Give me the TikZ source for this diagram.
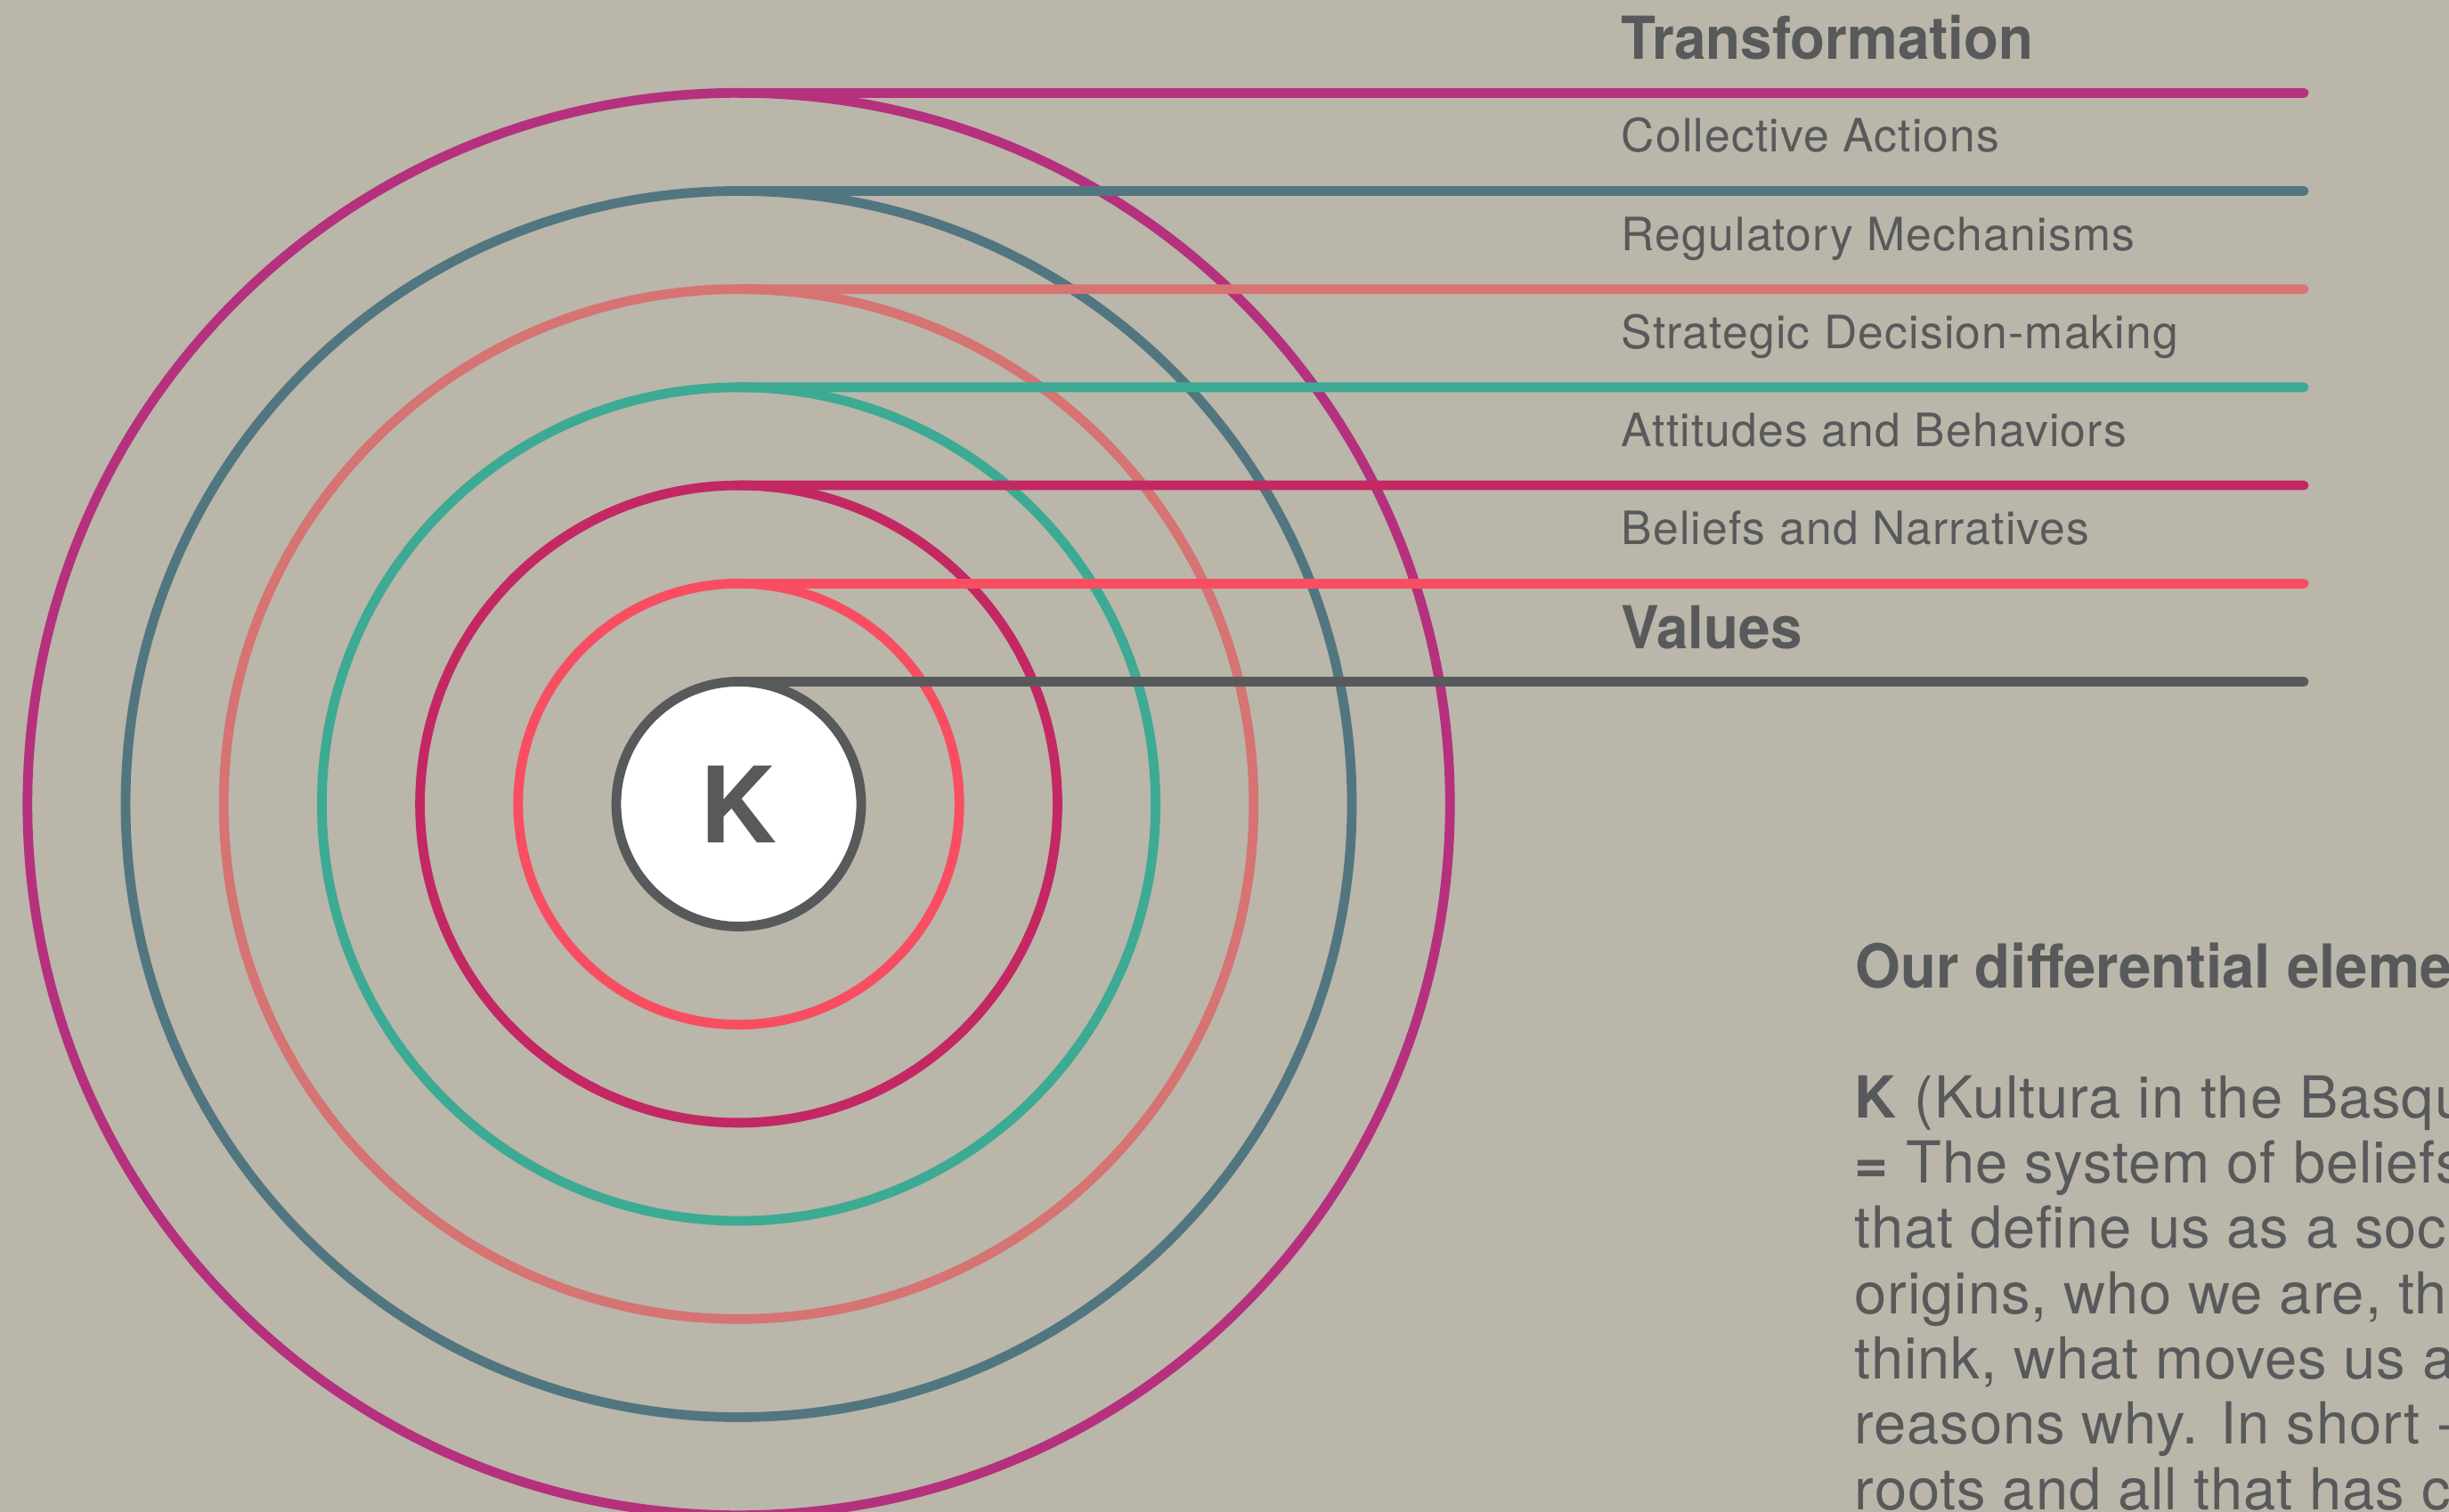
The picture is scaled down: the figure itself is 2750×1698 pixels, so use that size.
\documentclass[tikz,border=0pt]{standalone}
\usepackage{fontspec}
\setmainfont{TeX Gyre Heros}
\newfontfamily\labelfont{TeX Gyre Heros}[LetterSpace=2.3]
\newfontfamily\headfont{TeX Gyre Heros}[FakeStretch=0.96]
\newfontfamily\parafont{TeX Gyre Heros}[LetterSpace=1.4]
\definecolor{bg}{HTML}{BAB6AA}
\definecolor{ink}{HTML}{58595B}
\definecolor{cMag}{HTML}{B5317E}
\definecolor{cSlate}{HTML}{517680}
\definecolor{cSalmon}{HTML}{D67373}
\definecolor{cTeal}{HTML}{3DAA93}
\definecolor{cCrimson}{HTML}{C42862}
\definecolor{cRed}{HTML}{F94E62}
\tikzset{
  ring/.style={circle, draw=#1, line width=2.7pt, outer sep=0pt, inner sep=0pt},
  lead/.style={draw=#1, line width=2.7pt, line cap=round},
  lab/.style={anchor=base west, inner sep=0pt, text=ink, font=\labelfont\fontsize{12.9pt}{15pt}\selectfont},
  headlab/.style={anchor=base west, inner sep=0pt, text=ink, font=\headfont\bfseries\fontsize{16.6pt}{20pt}\selectfont},
  parahead/.style={anchor=base west, inner sep=0pt, text=ink, font=\headfont\bfseries\fontsize{17pt}{20pt}\selectfont},
  paraline/.style={anchor=base west, inner sep=0pt, text=ink, font=\parafont\fontsize{16.25pt}{18.3pt}\selectfont},
}
\begin{document}
\begin{tikzpicture}[x=0.25pt,y=-0.25pt]
\useasboundingbox (0,0) rectangle (2750,1698);
\clip (0,0) rectangle (2750,1698);
\fill[bg] (0,0) rectangle (2750,1698);
\coordinate (c) at (829.5,903);
% rings, outer to inner
\node[ring=cMag, minimum size=399.35pt] (r6) at (c) {};
\coordinate (e6) at (2587,104.3);
\draw[lead=cMag] (r6.north) -- (e6);
\node[ring=cSlate, minimum size=344.25pt] (r5) at (c) {};
\coordinate (e5) at (2587,214.5);
\draw[lead=cSlate] (r5.north) -- (e5);
\node[ring=cSalmon, minimum size=289.15pt] (r4) at (c) {};
\coordinate (e4) at (2587,324.7);
\draw[lead=cSalmon] (r4.north) -- (e4);
\node[ring=cTeal, minimum size=234.05pt] (r3) at (c) {};
\coordinate (e3) at (2587,434.9);
\draw[lead=cTeal] (r3.north) -- (e3);
\node[ring=cCrimson, minimum size=178.95pt] (r2) at (c) {};
\coordinate (e2) at (2587,545.1);
\draw[lead=cCrimson] (r2.north) -- (e2);
\node[ring=cRed, minimum size=123.85pt] (r1) at (c) {};
\coordinate (e1) at (2587,655.3);
\draw[lead=cRed] (r1.north) -- (e1);
\coordinate (e0) at (2587,765.5);
\node[ring=ink, fill=white, minimum size=68.75pt, text=ink, font=\bfseries\fontsize{29.6pt}{30pt}\selectfont] (k) at (c) {K};
\draw[lead=ink] (k.north) -- (e0);
% labels
\node[headlab] (tTrans) at (1820,66.5) {Transformation};
\node[lab] (tColl) at (1820,171) {Collective Actions};
\node[lab] (tReg) at (1820,281.2) {Regulatory Mechanisms};
\node[lab] (tStrat) at (1820,391.4) {Strategic Decision-making};
\node[lab] (tAtt) at (1820,501.6) {Attitudes and Behaviors};
\node[lab] (tBel) at (1820,611.8) {Beliefs and Narratives};
\node[headlab] (tVal) at (1820,728.5) {Values};
% paragraph (cut off by the picture's right and bottom edges, as in the reference)
\node[parahead] (ph) at (2083,1109) {Our differential elements};
\node[paraline] (p1) at (2082,1255) {\textbf{K} (Kultura in the Basque};
\node[paraline] (p2) at (2082,1328.3) {\textbf{=} The system of beliefs};
\node[paraline] (p3) at (2082,1401.7) {that define us as a society};
\node[paraline] (p4) at (2082,1475) {origins, who we are, the};
\node[paraline] (p5) at (2082,1548.3) {think, what moves us and};
\node[paraline] (p6) at (2082,1621.7) {reasons why. In short --};
\node[paraline] (p7) at (2082,1695) {roots and all that has come};
\end{tikzpicture}
\end{document}
